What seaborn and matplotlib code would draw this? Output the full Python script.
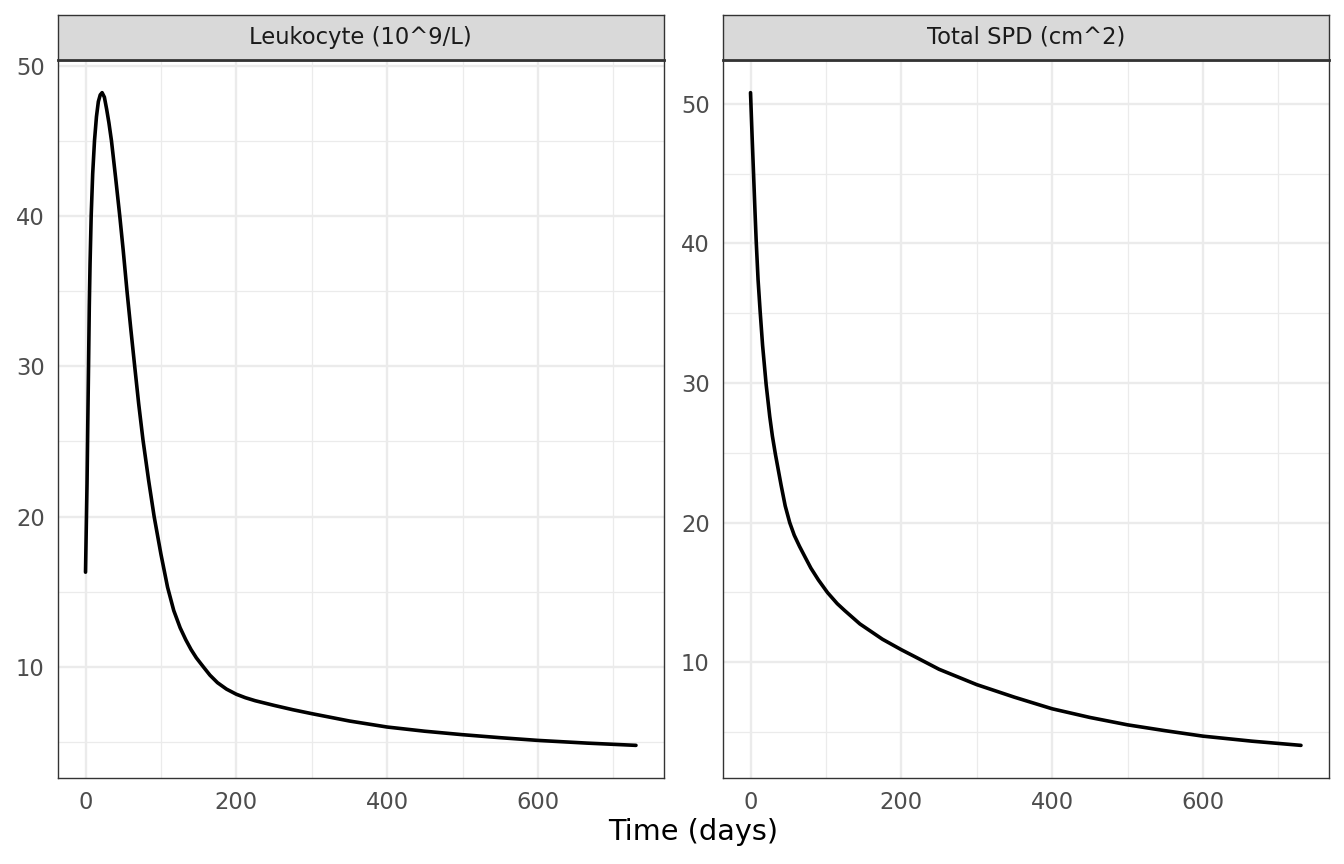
import matplotlib
matplotlib.use('Agg')
import matplotlib.pyplot as plt
import matplotlib.ticker as mticker
import numpy as np
import pandas as pd
import seaborn as sns

# values
panel_titles = ['Leukocyte (10^9/L)', 'Total SPD (cm^2)']

leuk_days = [0, 1, 2, 3, 4, 5, 6, 7.5, 9.5, 11.9, 14.5, 17, 19.5, 22, 25, 28,
             31, 34.4, 40, 45.4, 50, 55, 60, 65.2, 70.5, 76.2, 83.7, 91, 100,
             108.8, 117, 125.5, 133, 140, 147, 155.5, 165, 175, 187, 200, 212,
             225, 250, 275, 300, 350, 400, 450, 500, 550, 600, 665, 730]
leuk_values = [16.3, 19.3, 22.2, 26.2, 30.0, 34.0, 36.8, 40.0, 42.8, 45.0, 46.6,
               47.6, 48.05, 48.2, 47.9, 47.1, 46.2, 45.0, 42.5, 40.0, 37.7, 35.0,
               32.5, 30.0, 27.5, 25.1, 22.4, 20.0, 17.5, 15.3, 13.75, 12.6, 11.8,
               11.15, 10.6, 10.05, 9.45, 8.95, 8.52, 8.18, 7.95, 7.75, 7.44,
               7.15, 6.89, 6.40, 6.00, 5.72, 5.49, 5.29, 5.11, 4.93, 4.78]

spd_days = [0, 2, 4, 6, 7.5, 10, 12.8, 16, 20.7, 25.5, 29, 33, 40.5, 46, 52,
            58, 65, 72.7, 80, 90, 102, 115, 125, 145, 175, 200, 218, 250, 300,
            350, 400, 450, 500, 550, 600, 665, 730]
spd_values = [50.8, 47.8, 45.0, 42.2, 40.2, 37.4, 35.1, 32.7, 29.9, 27.6, 26.2,
              24.9, 22.7, 21.2, 20.0, 19.1, 18.3, 17.5, 16.75, 15.9, 15.0, 14.2,
              13.7, 12.75, 11.65, 10.9, 10.4, 9.5, 8.4, 7.5, 6.67, 6.05, 5.52,
              5.10, 4.71, 4.35, 4.05]

x_ticks = [0, 200, 400, 600]
x_minor = [100, 300, 500, 700]
y_ticks = [10, 20, 30, 40, 50]
y_minor = [5, 15, 25, 35, 45]

df = pd.concat([
    pd.DataFrame({'time': leuk_days, 'value': leuk_values, 'panel': panel_titles[0]}),
    pd.DataFrame({'time': spd_days, 'value': spd_values, 'panel': panel_titles[1]}),
])

sns.set_theme(style='white')
plt.rcParams['font.family'] = ['DejaVu Sans']

fig = plt.figure(figsize=(13.44, 8.64), dpi=100)

panel_left = [58 / 1344, 723 / 1344]
panel_width = 605.5 / 1344
panel_bottom = 86 / 864
panel_height = 718 / 864
strip_height = 45 / 864

border = '#333333'
grid = '#EBEBEB'

x_min = df['time'].min()
x_max = df['time'].max()
x_pad = (x_max - x_min) * 0.05

for i, title in enumerate(panel_titles):
    sub = df[df['panel'] == title]
    ax = fig.add_axes([panel_left[i], panel_bottom, panel_width, panel_height])
    sns.lineplot(data=sub, x='time', y='value', ax=ax, color='black',
                 linewidth=2.6, sort=True, errorbar=None)

    # ggplot-like 5% expansion
    y_min, y_max = sub['value'].min(), sub['value'].max()
    y_pad = (y_max - y_min) * 0.05
    ax.set_xlim(x_min - x_pad, x_max + x_pad)
    ax.set_ylim(y_min - y_pad, y_max + y_pad)

    ax.xaxis.set_major_locator(mticker.FixedLocator(x_ticks))
    ax.xaxis.set_minor_locator(mticker.FixedLocator(x_minor))
    ax.yaxis.set_major_locator(mticker.FixedLocator(y_ticks))
    ax.yaxis.set_minor_locator(mticker.FixedLocator(y_minor))

    ax.grid(True, which='major', color=grid, linewidth=1.7)
    ax.grid(True, which='minor', color=grid, linewidth=0.9)
    ax.set_axisbelow(True)

    ax.tick_params(axis='both', which='major', length=5.3, width=1.0,
                   color=border, labelcolor='#4D4D4D', labelsize=16.3, pad=4.2)
    ax.tick_params(axis='both', which='minor', length=0)
    ax.set_xlabel('')
    ax.set_ylabel('')
    for s in ax.spines.values():
        s.set_color(border)
        s.set_linewidth(1.0)

    # facet strip
    sax = fig.add_axes([panel_left[i], panel_bottom + panel_height,
                        panel_width, strip_height])
    sax.set_facecolor('#D9D9D9')
    sax.set_xticks([])
    sax.set_yticks([])
    for s in sax.spines.values():
        s.set_color(border)
        s.set_linewidth(1.0)
    sax.spines['bottom'].set_linewidth(2.0)
    sax.text(0.5, 0.5, title, ha='center', va='center', fontsize=16.3,
             color='#1A1A1A', transform=sax.transAxes)

fig.text(693 / 1344, 1 - 832 / 864, 'Time (days)', ha='center', va='center',
         fontsize=20.7, color='black')

plt.savefig('out.png', dpi=100)
